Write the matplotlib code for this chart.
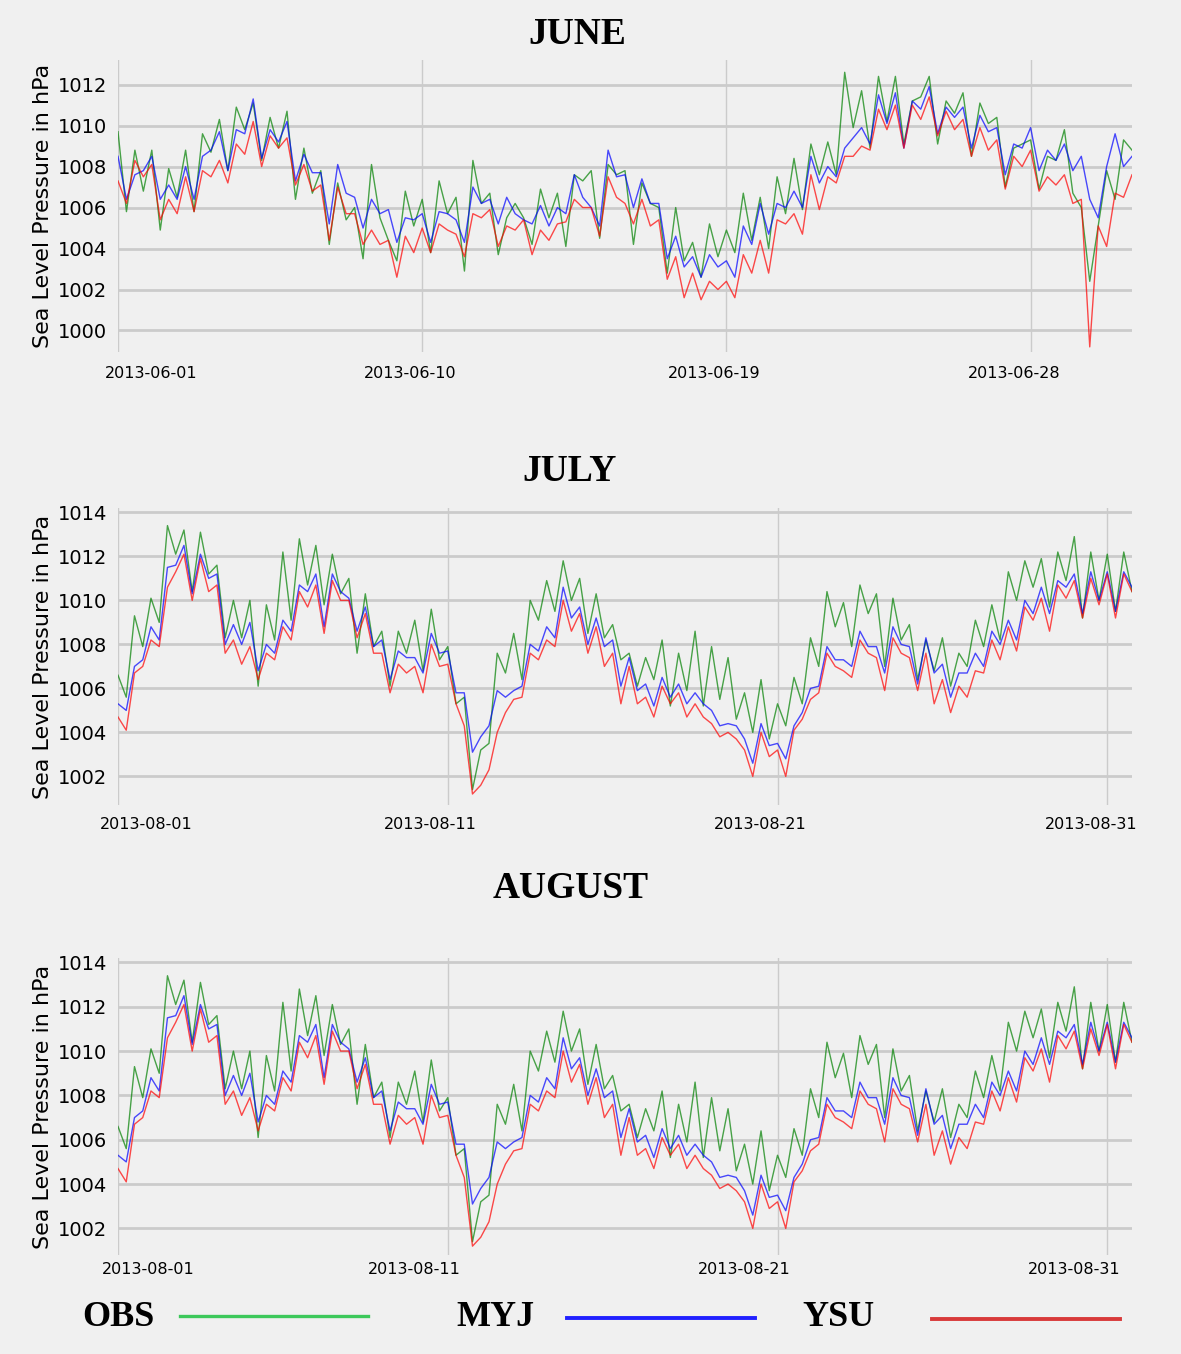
import numpy as np
import pandas as pd
import matplotlib
matplotlib.use("Agg")
import matplotlib.pyplot as plt
import matplotlib.dates as mdates
from matplotlib.lines import Line2D

# ---------------- data (6-hourly readings, hPa) ----------------
june_obs = [
    1009.7, 1005.8, 1008.8, 1006.8, 1008.8, 1004.9, 1007.9, 1006.5, 1008.8, 1005.8,
    1009.6, 1008.7, 1010.3, 1007.8, 1010.9, 1009.8, 1011.1, 1008.3, 1010.4, 1008.9,
    1010.7, 1006.4, 1008.9, 1006.7, 1007.8, 1004.2, 1007.2, 1005.4, 1006.0, 1003.5,
    1008.1,
    1005.5, 1004.4, 1003.4, 1006.8, 1005.1, 1006.4, 1003.8, 1007.3, 1005.7, 1006.5,
    1002.9, 1008.3, 1006.2, 1006.7, 1003.7, 1005.5, 1006.2, 1005.5, 1004.2, 1006.9,
    1005.5, 1006.7, 1004.1, 1007.6, 1007.3, 1007.8, 1004.5, 1008.1, 1007.6, 1007.8,
    1004.2, 1007.2, 1006.2, 1006.0, 1002.8, 1006.0, 1003.4, 1004.3, 1002.6, 1005.2,
    1003.6, 1004.9, 1003.8, 1006.7, 1004.4, 1006.5, 1004.0, 1007.5, 1005.7, 1008.4,
    1005.9, 1009.1, 1007.6, 1009.2, 1007.6, 1012.6, 1009.9, 1011.7, 1008.9, 1012.4,
    1010.2, 1012.4, 1009.1, 1011.2, 1011.4, 1012.4, 1009.1, 1011.2, 1010.6, 1011.6,
    1008.5, 1011.1, 1010.1, 1010.4, 1007.0, 1008.9, 1009.1, 1009.3, 1006.9, 1008.5,
    1008.3, 1009.8, 1006.7, 1006.0, 1002.4, 1005.1, 1007.8, 1006.4, 1009.3, 1008.8,
]
june_myj = [
    1008.5, 1006.4, 1007.6, 1007.8, 1008.5, 1006.4, 1007.1, 1006.4, 1008.0, 1006.4,
    1008.5, 1008.8, 1009.7, 1007.8, 1009.8, 1009.6, 1011.3, 1008.4, 1009.8, 1009.2,
    1010.2, 1007.3, 1008.6, 1007.7, 1007.7, 1005.2, 1008.1, 1006.7, 1006.5, 1005.0,
    1006.4,
    1005.7, 1005.9, 1004.3, 1005.5, 1005.4, 1005.7, 1004.3, 1005.8, 1005.7, 1005.4,
    1004.3, 1007.0, 1006.2, 1006.4, 1005.2, 1006.5, 1005.7, 1005.4, 1005.2, 1006.1,
    1005.1, 1006.0, 1005.7, 1007.6, 1006.5, 1006.0, 1005.1, 1008.8, 1007.5, 1007.6,
    1006.0, 1007.4, 1006.2, 1006.2, 1003.5, 1004.6, 1003.1, 1003.6, 1002.6, 1003.7,
    1003.1, 1003.4, 1002.6, 1005.1, 1004.2, 1006.2, 1004.7, 1006.2, 1006.0, 1006.8,
    1006.0, 1008.5, 1007.2, 1008.0, 1007.5, 1008.9, 1009.4, 1009.9, 1009.1, 1011.5,
    1010.1, 1011.6, 1008.9, 1011.2, 1010.8, 1011.9, 1009.6, 1010.9, 1010.4, 1010.9,
    1008.9, 1010.5, 1009.7, 1009.9, 1007.6, 1009.1, 1008.9, 1009.9, 1007.8, 1008.8,
    1008.3, 1009.1, 1007.8, 1008.5, 1006.4, 1005.5, 1008.0, 1009.6, 1008.0, 1008.5,
]
june_ysu = [
    1007.3, 1006.2, 1008.3, 1007.5, 1008.1, 1005.4, 1006.4, 1005.7, 1007.5, 1005.8,
    1007.8, 1007.5, 1008.3, 1007.2, 1009.1, 1008.6, 1010.2, 1008.0, 1009.5, 1008.9,
    1009.4, 1007.1, 1008.1, 1006.8, 1007.1, 1004.4, 1007.0, 1005.7, 1005.7, 1004.2,
    1004.9,
    1004.2, 1004.4, 1002.6, 1004.6, 1003.8, 1005.0, 1003.8, 1005.2, 1004.9, 1004.7,
    1003.6, 1005.7, 1005.5, 1005.9, 1004.1, 1005.1, 1004.9, 1005.4, 1003.7, 1004.9,
    1004.4, 1005.2, 1005.3, 1006.4, 1006.0, 1006.0, 1004.6, 1007.5, 1006.5, 1006.2,
    1005.2, 1006.4, 1005.1, 1005.4, 1002.5, 1003.6, 1001.6, 1002.8, 1001.5, 1002.4,
    1002.0, 1002.4, 1001.6, 1003.7, 1002.8, 1004.4, 1002.8, 1005.4, 1005.2, 1005.7,
    1004.7, 1007.6, 1005.9, 1007.5, 1007.2, 1008.5, 1008.5, 1009.0, 1008.8, 1010.8,
    1009.8, 1011.0, 1008.9, 1011.0, 1010.3, 1011.4, 1009.5, 1010.7, 1009.8, 1010.3,
    1008.5, 1009.9, 1008.8, 1009.3, 1006.9, 1008.5, 1008.0, 1008.8, 1006.8, 1007.5,
    1007.1, 1007.6, 1006.2, 1006.4, 999.2, 1005.1, 1004.1, 1006.7, 1006.5, 1007.6,
]

aug_obs = [
    1006.6, 1005.6, 1009.3, 1007.9, 1010.1, 1009.0, 1013.4, 1012.1,
    1013.2, 1010.4, 1013.1, 1011.2, 1011.6, 1008.3, 1010.0, 1008.3,
    1010.0, 1006.1, 1009.8, 1008.2, 1012.2, 1009.1, 1012.8, 1010.7,
    1012.5, 1009.8, 1012.1, 1010.3, 1011.0, 1007.6, 1010.3, 1007.9,
    1008.6, 1006.1, 1008.6, 1007.6, 1009.1, 1006.8, 1009.6, 1007.3,
    1007.9, 1005.3, 1005.6, 1001.4, 1003.2, 1003.5, 1007.6, 1006.7,
    1008.5, 1006.4, 1010.0, 1009.1, 1010.9, 1009.5, 1011.8, 1010.0,
    1011.0, 1008.5, 1010.3, 1008.3, 1008.9, 1007.3, 1007.6, 1006.1,
    1007.4, 1006.4, 1008.2, 1005.2, 1007.6, 1005.9, 1008.6, 1005.2,
    1007.9, 1005.5, 1007.4, 1004.6, 1005.8, 1004.0, 1006.4, 1003.7,
    1005.3, 1004.3, 1006.5, 1005.3, 1008.3, 1007.0, 1010.4, 1008.8,
    1009.9, 1007.9, 1010.7, 1009.4, 1010.3, 1007.0, 1010.1, 1008.2,
    1008.9, 1006.4, 1008.2, 1006.8, 1008.3, 1006.1, 1007.6, 1007.0,
    1009.1, 1007.9, 1009.8, 1008.2, 1011.3, 1010.0, 1011.8, 1010.6,
    1011.9, 1009.7, 1012.2, 1010.9, 1012.9, 1009.2, 1012.2, 1010.0,
    1012.1, 1009.5, 1012.2, 1010.4,
]
aug_myj = [
    1005.3, 1005.0, 1007.0, 1007.3, 1008.8, 1008.2, 1011.5, 1011.6,
    1012.5, 1010.3, 1012.1, 1011.0, 1011.2, 1008.0, 1008.9, 1008.0,
    1009.0, 1006.8, 1008.0, 1007.6, 1009.1, 1008.6, 1010.7, 1010.4,
    1011.2, 1008.8, 1011.2, 1010.4, 1010.1, 1008.6, 1009.7, 1007.9,
    1008.2, 1006.4, 1007.7, 1007.4, 1007.4, 1006.7, 1008.5, 1007.6,
    1007.7, 1005.8, 1005.8, 1003.1, 1003.8, 1004.3, 1005.9, 1005.6,
    1005.9, 1006.1, 1008.0, 1007.7, 1008.8, 1008.3, 1010.6, 1009.2,
    1009.7, 1008.0, 1009.2, 1007.9, 1008.2, 1006.1, 1007.4, 1005.9,
    1006.2, 1005.2, 1006.5, 1005.6, 1006.2, 1005.3, 1005.8, 1005.3,
    1005.0, 1004.3, 1004.4, 1004.3, 1003.7, 1002.6, 1004.4, 1003.4,
    1003.5, 1002.8, 1004.3, 1004.9, 1006.0, 1006.1, 1007.9, 1007.3,
    1007.3, 1007.0, 1008.6, 1007.9, 1007.9, 1006.7, 1008.8, 1008.0,
    1007.9, 1006.2, 1008.3, 1006.7, 1007.1, 1005.6, 1006.7, 1006.7,
    1007.6, 1007.0, 1008.6, 1008.0, 1009.1, 1008.2, 1010.0, 1009.4,
    1010.6, 1009.4, 1010.9, 1010.6, 1011.2, 1009.4, 1011.3, 1010.0,
    1011.3, 1009.5, 1011.3, 1010.6,
]
aug_ysu = [
    1004.7, 1004.1, 1006.7, 1007.0, 1008.2, 1007.9, 1010.6, 1011.3,
    1012.1, 1010.0, 1011.9, 1010.4, 1010.7, 1007.6, 1008.2, 1007.1,
    1007.9, 1006.4, 1007.6, 1007.3, 1008.8, 1008.2, 1010.4, 1009.7,
    1010.7, 1008.5, 1010.9, 1010.0, 1010.0, 1008.3, 1009.4, 1007.6,
    1007.6, 1005.8, 1007.1, 1006.7, 1007.0, 1005.8, 1008.0, 1007.0,
    1007.1, 1005.3, 1004.3, 1001.2, 1001.6, 1002.3, 1004.0, 1004.9,
    1005.5, 1005.6, 1007.6, 1007.3, 1008.2, 1007.9, 1010.0, 1008.6,
    1009.4, 1007.6, 1008.8, 1007.0, 1007.6, 1005.3, 1007.0, 1005.3,
    1005.6, 1004.7, 1006.1, 1005.3, 1005.8, 1004.7, 1005.3, 1004.7,
    1004.4, 1003.8, 1004.0, 1003.7, 1003.2, 1002.0, 1004.0, 1002.9,
    1003.2, 1002.0, 1004.1, 1004.6, 1005.5, 1005.8, 1007.6, 1007.0,
    1006.8, 1006.5, 1008.2, 1007.6, 1007.4, 1005.9, 1008.3, 1007.6,
    1007.4, 1005.9, 1007.6, 1005.3, 1006.4, 1004.9, 1006.1, 1005.6,
    1006.8, 1006.7, 1008.2, 1007.3, 1008.8, 1007.7, 1009.7, 1009.1,
    1010.1, 1008.6, 1010.7, 1010.1, 1010.9, 1009.2, 1011.0, 1009.8,
    1011.2, 1009.2, 1011.2, 1010.4,
]

june_start = "2013-06-01"
aug_start = "2013-08-01"
june_ticks = ["2013-06-01", "2013-06-10", "2013-06-19", "2013-06-28"]
aug_ticks = ["2013-08-01", "2013-08-11", "2013-08-21", "2013-08-31"]
titles = ["JUNE", "JULY", "AUGUST"]
series_names = ["OBS", "MYJ", "YSU"]
june_yticks = [1000, 1002, 1004, 1006, 1008, 1010, 1012]
aug_yticks = [1002, 1004, 1006, 1008, 1010, 1012, 1014]

# ---------------- styling ----------------
BG = "#f0f0f0"
GRID = "#cbcbcb"
line_colors = ["g", "b", "r"]
legend_colors = ["#3cc85a", "#2020ff", "#d83a3a"]
W, H = 1181, 1354
PX = 0.72  # points per pixel at 100 dpi

fig = plt.figure(figsize=(W / 100, H / 100), dpi=100, facecolor=BG)


def rect(left, right, top, bottom):
    return [left / W, 1 - bottom / H, (right - left) / W, (bottom - top) / H]


panels = [
    dict(start=june_start, data=(june_obs, june_myj, june_ysu), ticks=june_ticks,
         yticks=june_yticks, ylim=(998.95, 1013.2), rect=rect(118, 1132, 60, 352),
         title_xy=(577, 35), offsets=[33, -12, -12, -16], label_dy=22),
    dict(start=aug_start, data=(aug_obs, aug_myj, aug_ysu), ticks=aug_ticks,
         yticks=aug_yticks, ylim=(1000.7, 1014.2), rect=rect(118, 1132, 508, 805),
         title_xy=(570, 472), offsets=[28, -17, -17, -16], label_dy=20),
    dict(start=aug_start, data=(aug_obs, aug_myj, aug_ysu), ticks=aug_ticks,
         yticks=aug_yticks, ylim=(1000.8, 1014.2), rect=rect(118, 1132, 958, 1255),
         title_xy=(571, 889), offsets=[30, -33, -33, -33], label_dy=15),
]

for p, title in zip(panels, titles):
    ax = fig.add_axes(p["rect"])
    ax.set_facecolor(BG)
    n = len(p["data"][0])
    t = pd.date_range(p["start"], periods=n, freq="6h")
    for vals, c in zip(p["data"], line_colors):
        ax.plot(t, vals, color=c, lw=1.0, alpha=0.7)
    ax.set_xlim(t[0], t[-1])
    ax.set_ylim(*p["ylim"])
    ax.set_yticks(p["yticks"])
    ax.set_yticklabels([str(v) for v in p["yticks"]], fontsize=14)
    tick_dates = pd.to_datetime(p["ticks"])
    ax.set_xticks(tick_dates)
    ax.set_xticklabels([])
    for lab, d, dx in zip(p["ticks"], tick_dates, p["offsets"]):
        ax.annotate(lab, xy=(mdates.date2num(d), 0), xycoords=ax.get_xaxis_transform(),
                    xytext=(dx * PX, -p["label_dy"] * PX), textcoords="offset points",
                    ha="center", va="center", fontsize=11.5, annotation_clip=False)
    ax.tick_params(axis="both", length=0, pad=8)
    ax.grid(axis="y", color=GRID, lw=2.0)
    ax.grid(axis="x", color=GRID, lw=1.0)
    ax.set_axisbelow(True)
    for s in ax.spines.values():
        s.set_visible(False)
    ax.set_ylabel("Sea Level Pressure in hPa", fontsize=16, labelpad=3)
    fig.text(p["title_xy"][0] / W, 1 - p["title_xy"][1] / H, title,
             fontsize=27, fontweight="bold", family="Liberation Serif",
             ha="center", va="center")

# ---------------- bottom legend ----------------
leg_text_x = [118, 495, 838]
leg_line_x = [(180, 368), (567, 755), (932, 1120)]
leg_line_y = [1316, 1318, 1319]
leg_lw = [2.4, 2.8, 2.8]
for name, tx, (x0, x1), ly, c, lw in zip(series_names, leg_text_x, leg_line_x,
                                         leg_line_y, legend_colors, leg_lw):
    fig.text(tx / W, 1 - 1317 / H, name, fontsize=26, fontweight="bold",
             family="Liberation Serif", ha="center", va="center")
    fig.add_artist(Line2D([x0 / W, x1 / W], [1 - ly / H, 1 - ly / H],
                          transform=fig.transFigure, color=c, lw=lw))

fig.savefig("out.png", dpi=100, facecolor=BG)
